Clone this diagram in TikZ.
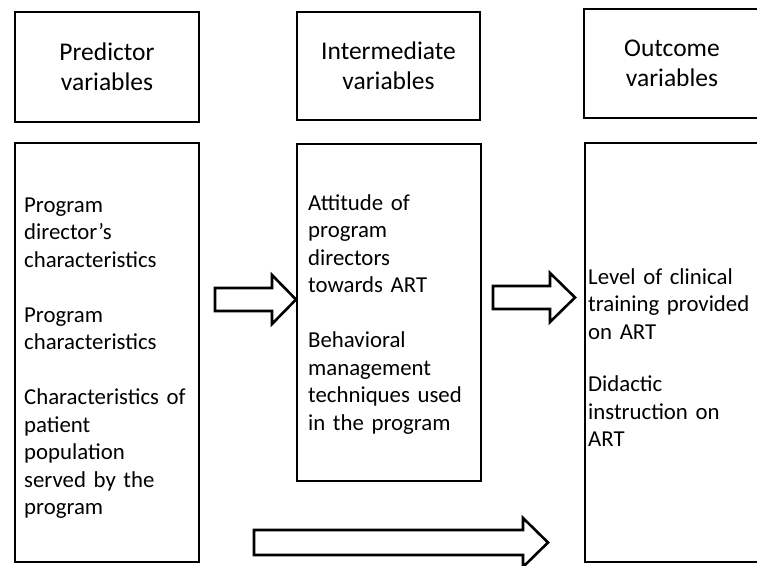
\documentclass[tikz,border=0pt]{standalone}
\usepackage{fontspec}
\setmainfont{Carlito}
\begin{document}
\begin{tikzpicture}[x=1pt,y=-1pt,
  box/.style={draw=black, line width=2.6pt, fill=white, inner sep=0pt},
  headtext/.style={align=center, font=\fontsize{25.5}{30}\selectfont},
  bodytext/.style={align=left, text width=200pt, inner sep=0pt, anchor=base west, font=\fontsize{22.8}{27.5}\selectfont},
  blockarrow/.style={draw=black, line width=2.6pt, fill=white, line join=miter}]
\useasboundingbox (0,0) rectangle (757,565);
\clip (0,0) rectangle (757,565);
\fill[white] (0,0) rectangle (757,565);
% header boxes
\node[box, minimum width=184pt, minimum height=110pt] (h1) at (107,67) {};
\node[headtext] (h1t) at (h1.center) {Predictor\\variables};
\node[box, minimum width=183pt, minimum height=108pt] (h2) at (388.5,66) {};
\node[headtext] (h2t) at (h2.center) {Intermediate\\variables};
\node[box, minimum width=176pt, minimum height=109pt] (h3) at (672,63.5) {};
\node[headtext] (h3t) at (h3.center) {Outcome\\variables};
% content boxes
\node[box, minimum width=184pt, minimum height=419pt] (b1) at (107,352.5) {};
\node[box, minimum width=184pt, minimum height=337pt] (b2) at (389,312.5) {};
\node[box, minimum width=175pt, minimum height=419pt] (b3) at (672.5,352.5) {};
\node[bodytext] (t1) at (24,212) {Program\\director's\\characteristics\\[27.5pt]Program\\characteristics\\[27.5pt]Characteristics of\\patient\\population\\served by the\\program};
\node[bodytext] (t2) at (308,210) {Attitude of\\program\\directors\\towards ART\\[27.5pt]Behavioral\\management\\techniques used\\in the program};
\node[bodytext] (t3) at (588,284) {Level of clinical\\training provided\\on ART\\[25pt]Didactic\\instruction on\\ART};
% block arrows
\coordinate (a1) at (296,299.5);
\coordinate (a2) at (575,297.5);
\coordinate (a3) at (548,542.5);
\draw[blockarrow] (215,288) -- (272,288) -- (272,275) -- (a1) -- (272,324) -- (272,311) -- (215,311) -- cycle;
\draw[blockarrow] (493,286) -- (550,286) -- (550,273) -- (a2) -- (550,322) -- (550,309) -- (493,309) -- cycle;
\draw[blockarrow] (254,530) -- (523,530) -- (523,518) -- (a3) -- (523,567) -- (523,555) -- (254,555) -- cycle;
\end{tikzpicture}
\end{document}
